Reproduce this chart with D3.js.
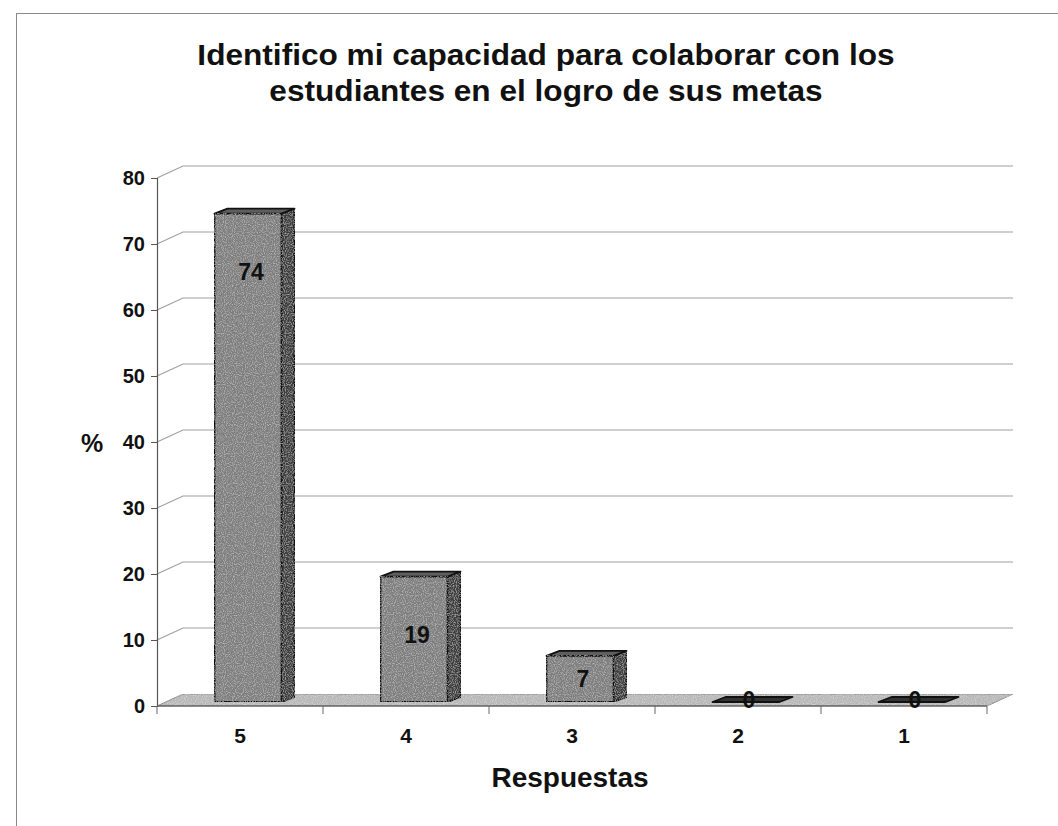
<!DOCTYPE html>
<html><head><meta charset="utf-8">
<script src="https://cdn.jsdelivr.net/npm/d3@7"></script>
<style>body{margin:0;background:#fff}svg{display:block}text{font-family:"Liberation Sans",Arial,sans-serif;font-weight:bold;fill:#111}</style>
</head><body>
<svg id="c" width="1058" height="826"></svg>
<script>
const categories = ["5","4","3","2","1"];
const values = [74,19,7,0,0];
const yTicks = [0,10,20,30,40,50,60,70,80];
const titleLines = ["Identifico mi capacidad para colaborar con los","estudiantes en el logro de sus metas"];
const yLabel = "%";
const xLabel = "Respuestas";

const svg = d3.select("#c");
const W=1058,H=826;
const defs = svg.append("defs");
const f = defs.append("filter").attr("id","grain").attr("x",0).attr("y",0).attr("width",1).attr("height",1);
f.append("feTurbulence").attr("type","fractalNoise").attr("baseFrequency",0.9).attr("numOctaves",1).attr("seed",3).attr("result","n");
f.append("feColorMatrix").attr("in","n").attr("type","matrix")
 .attr("values","0 0 0 0 1  0 0 0 0 1  0 0 0 0 1  1.0 0 0 0 -0.45").attr("result","w");
f.append("feComposite").attr("in","w").attr("in2","SourceGraphic").attr("operator","in").attr("result","wc");
f.append("feMerge").selectAll("feMergeNode").data(["SourceGraphic","wc"]).join("feMergeNode").attr("in",d=>d);

svg.append("rect").attr("x",16.5).attr("y",13.5).attr("width",W).attr("height",H).attr("fill","#fff").attr("stroke","#8a8a8a");

const x0=157, x1=987, dX=26, dY=-12;
const x = d3.scaleBand().domain(categories).range([x0,x1]).paddingInner(0).paddingOuter(0);
const y = d3.scaleLinear().domain([0,80]).range([706,178]);

const g = svg.append("g");
yTicks.forEach(t=>{
  if(t===0) return;
  g.append("path").attr("d",`M${x0},${y(t)}L${x0+dX},${y(t)+dY}L${x1+dX},${y(t)+dY}`)
   .attr("fill","none").attr("stroke","#a0a0a0").attr("stroke-width",1.2);
});
g.append("path").attr("d",`M${x0},${y(0)}L${x1},${y(0)}L${x1+dX},${y(0)+dY}L${x0+dX},${y(0)+dY}Z`)
 .attr("fill","#b8b8b8").attr("stroke","#8a8a8a").attr("filter","url(#grain)");
g.append("line").attr("x1",x0).attr("x2",x1).attr("y1",y(0)).attr("y2",y(0)).attr("stroke","#666").attr("stroke-width",1.5);

const ya = svg.append("g").attr("transform",`translate(${x0},0)`)
  .call(d3.axisLeft(y).tickValues(yTicks).tickSize(6).tickPadding(6).tickFormat(d3.format("d")));
ya.select(".domain").attr("stroke","#555").attr("stroke-width",1.2);
ya.selectAll(".tick line").attr("stroke","#555");
ya.selectAll("text").attr("font-size",20).attr("font-family","Liberation Sans, Arial").attr("font-weight","bold").attr("fill","#111");

const xa = svg.append("g").attr("transform",`translate(0,${y(0)})`)
  .call(d3.axisBottom(x).tickSize(0).tickPadding(22));
xa.select(".domain").remove();
xa.selectAll("text").attr("font-size",21).attr("font-family","Liberation Sans, Arial").attr("font-weight","bold").attr("fill","#111");
const bounds = categories.map(c=>x(c)).concat([x1]);
svg.append("g").selectAll("line").data(bounds).join("line")
 .attr("x1",d=>d).attr("x2",d=>d).attr("y1",y(0)).attr("y2",y(0)+8).attr("stroke","#666");

const bw=67, bdx=13, bdy=-5, offX=8, offY=-4;
const bars = svg.append("g");
categories.forEach((c,i)=>{
  const v=values[i];
  const L = x(c)+x.bandwidth()/2-bw/2+offX, R=L+bw;
  const B = y(0)+offY, T = y(v)+offY;
  const gb = bars.append("g").attr("stroke","#111").attr("stroke-width",1.8).attr("stroke-linejoin","round");
  if(v>0){
    gb.append("path").attr("d",`M${R},${B}L${R+bdx},${B+bdy}L${R+bdx},${T+bdy}L${R},${T}Z`).attr("fill","#3e3e3e").attr("filter","url(#grain)");
    gb.append("path").attr("d",`M${L},${T}L${R},${T}L${R+bdx},${T+bdy}L${L+bdx},${T+bdy}Z`).attr("fill","#5e5e5e");
    gb.append("rect").attr("x",L).attr("y",T).attr("width",bw).attr("height",B-T).attr("fill","#7e7e7e").attr("filter","url(#grain)");
  } else {
    gb.append("path").attr("d",`M${L},${B}L${R},${B}L${R+bdx},${B+bdy}L${L+bdx},${B+bdy}Z`).attr("fill","#333");
  }
  const ly = v>0 ? Math.min((T+B)/2, T+58) : B-2;
  bars.append("text").attr("x",(L+R)/2+3).attr("y",ly).attr("dy","0.36em")
   .attr("text-anchor","middle").attr("font-size",23).attr("fill","#1a1a1a").text(v);
});

const tg = svg.append("g").attr("transform","translate(546,0) scale(1.09,1)");
titleLines.forEach((t,i)=>{
  tg.append("text").attr("x",0).attr("y",65+i*36).attr("text-anchor","middle").attr("font-size",29).text(t);
});
svg.append("text").attr("x",92).attr("y",452).attr("text-anchor","middle").attr("font-size",25).text(yLabel);
svg.append("text").attr("x",570).attr("y",787).attr("text-anchor","middle").attr("font-size",28).text(xLabel);
</script>
</body></html>
